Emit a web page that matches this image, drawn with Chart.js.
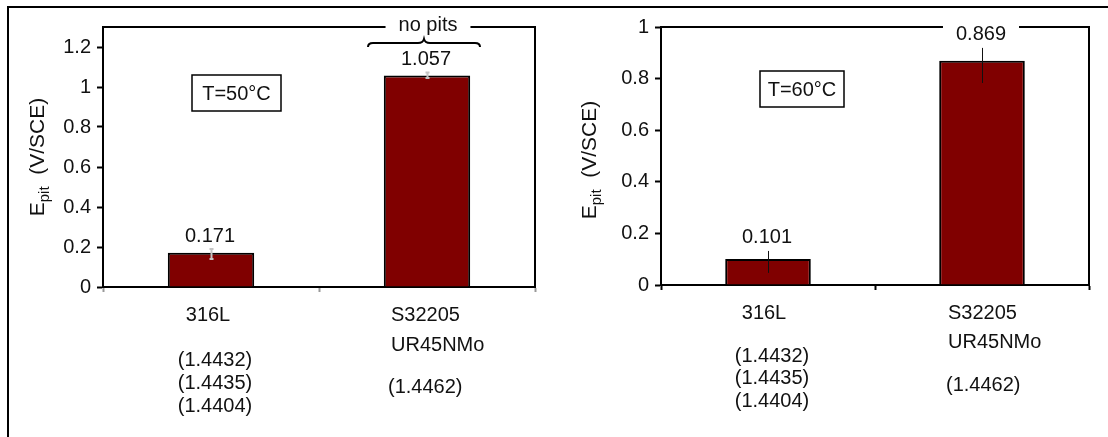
<!DOCTYPE html>
<html>
<head>
<meta charset="utf-8">
<script src="https://cdn.jsdelivr.net/npm/chart.js@4.4.1/dist/chart.umd.min.js"></script>
<style>
  html, body { margin: 0; padding: 0; background: #fff; }
  #page { position: relative; width: 1108px; height: 437px; overflow: hidden; }
  #frame { position: absolute; left: 7px; top: 6px; right: -10px; bottom: -10px;
           border-left: 2px solid #000; border-top: 2px solid #000; }
  canvas { position: absolute; left: 0; top: 0; }
</style>
</head>
<body>
<div id="page">
  <div id="frame"></div>
  <canvas id="chart50" width="1108" height="437"></canvas>
  <canvas id="chart60" width="1108" height="437"></canvas>
</div>
<script>
// categories and their extra label lines
const categories = ['316L', 'S32205'];
const nameLines = [['316L'], ['S32205', 'UR45NMo']];
const gradeLines = [['(1.4432)', '(1.4435)', '(1.4404)'], ['(1.4462)']];

// T = 50 °C
const epit50 = [0.171, 1.057];
const errLow50 = [0.14, 1.045];
const errHigh50 = [0.19, 1.072];
const notes50 = ['', 'no pits'];
const yTicks50 = [0, 0.2, 0.4, 0.6, 0.8, 1, 1.2];

// T = 60 °C
const epit60 = [0.101, 0.869];
const errLow60 = [0.047, 0.783];
const errHigh60 = [0.132, 0.919];
const notes60 = ['', ''];
const yTicks60 = [0, 0.2, 0.4, 0.6, 0.8, 1];

const FONT = "'Liberation Sans', Arial, sans-serif";
const INK = '#111';

const extras = {
  id: 'extras',
  afterDraw(chart, args, o) {
    const ctx = chart.ctx;
    const { left, right, top, bottom } = chart.chartArea;
    const xs = chart.scales.x, ys = chart.scales.y;
    const values = chart.data.datasets[0].data;
    const gaps = [];
    ctx.save();

    // error bars
    values.forEach((v, i) => {
      const cx = Math.round(xs.getPixelForValue(i)) + 0.5;
      const yl = ys.getPixelForValue(o.errLow[i]);
      const yh = ys.getPixelForValue(o.errHigh[i]);
      ctx.strokeStyle = o.errColor;
      ctx.lineWidth = o.errWidth;
      ctx.beginPath();
      ctx.moveTo(cx, yl); ctx.lineTo(cx, yh);
      if (o.capW) {
        ctx.moveTo(cx - o.capW, yl); ctx.lineTo(cx + o.capW, yl);
        ctx.moveTo(cx - o.capW, yh); ctx.lineTo(cx + o.capW, yh);
      }
      ctx.stroke();
    });

    // value labels and notes
    ctx.font = `20px ${FONT}`;
    ctx.fillStyle = INK;
    ctx.textAlign = 'center';
    ctx.textBaseline = 'middle';
    values.forEach((v, i) => {
      const cx = xs.getPixelForValue(i) - 1;
      const ly = ys.getPixelForValue(o.errHigh[i]) - 13;
      const txt = String(v);
      ctx.fillText(txt, cx, ly);
      if (ly - 10 < top) {
        const w = ctx.measureText(txt).width;
        gaps.push([cx - w / 2 - 13, cx + w / 2 + 13]);
      }
      if (o.notes[i]) {
        const w = ctx.measureText(o.notes[i]).width;
        ctx.fillText(o.notes[i], cx + 2, top - 2);
        gaps.push([cx + 2 - w / 2 - 13, cx + 2 + w / 2 + 13]);
        // curly brace under the note
        const bx = cx - 2, by = top + 16, bw = 56;
        ctx.strokeStyle = '#000';
        ctx.lineWidth = 2;
        ctx.beginPath();
        ctx.moveTo(bx - bw, by + 4);
        ctx.quadraticCurveTo(bx - bw, by, bx - bw + 5, by);
        ctx.lineTo(bx - 6, by);
        ctx.quadraticCurveTo(bx - 1, by, bx, by - 4);
        ctx.quadraticCurveTo(bx + 1, by, bx + 6, by);
        ctx.lineTo(bx + bw - 5, by);
        ctx.quadraticCurveTo(bx + bw, by, bx + bw, by + 4);
        ctx.stroke();
      }
    });

    // top and right frame of the plot, with gaps for text
    ctx.strokeStyle = '#000';
    ctx.lineWidth = 2;
    ctx.beginPath();
    let x0 = left;
    gaps.sort((a, b) => a[0] - b[0]).forEach(g => {
      ctx.moveTo(x0, top); ctx.lineTo(g[0], top); x0 = g[1];
    });
    ctx.moveTo(x0, top); ctx.lineTo(right, top); ctx.lineTo(right, bottom);
    ctx.stroke();

    // temperature box
    ctx.lineWidth = 1.5;
    ctx.strokeRect(o.boxX, o.boxY, o.boxW, o.boxH);
    ctx.fillText(o.tempLabel, o.boxX + o.boxW / 2, o.boxY + o.boxH / 2 + 1);

    // category labels
    const L = o.lab;
    const c0 = xs.getPixelForValue(0), c1 = xs.getPixelForValue(1);
    ctx.textAlign = 'center';
    nameLines[0].forEach((t, k) => ctx.fillText(t, c0 + L.dx0Name, L.nameY + k * L.nameStep));
    gradeLines[0].forEach((t, k) => ctx.fillText(t, c0 + L.dx0Grade, L.gradeY0 + k * L.gradeStep));
    ctx.textAlign = 'left';
    nameLines[1].forEach((t, k) => ctx.fillText(t, c1 + L.dx1Name, L.nameY + k * L.nameStep));
    gradeLines[1].forEach((t, k) => ctx.fillText(t, c1 + L.dx1Grade, L.gradeY1 + k * L.gradeStep));

    // y axis title: E_pit (V/SCE)
    ctx.translate(o.titleX, (top + bottom) / 2 + o.titleDy);
    ctx.rotate(-Math.PI / 2);
    ctx.textAlign = 'left';
    ctx.textBaseline = 'alphabetic';
    ctx.font = `21px ${FONT}`;
    const wE = ctx.measureText('E').width;
    const wR = ctx.measureText('  (V/SCE)').width;
    ctx.font = `15px ${FONT}`;
    const wS = ctx.measureText('pit').width;
    let tx = -(wE + wS + wR) / 2;
    ctx.font = `21px ${FONT}`;
    ctx.fillText('E', tx, 0); tx += wE;
    ctx.font = `15px ${FONT}`;
    ctx.fillText('pit', tx, 5); tx += wS;
    ctx.font = `21px ${FONT}`;
    ctx.fillText('  (V/SCE)', tx, 0);

    ctx.restore();
  }
};

function makeChart(id, values, yMax, yTicks, pad, axisH, xTickColor, opts) {
  return new Chart(document.getElementById(id), {
    type: 'bar',
    data: {
      labels: categories,
      datasets: [{
        data: values,
        backgroundColor: '#800000',
        borderColor: '#000',
        borderWidth: 2,
        barPercentage: 0.4,
        categoryPercentage: 1
      }]
    },
    options: {
      responsive: false,
      animation: false,
      events: [],
      layout: { padding: pad },
      plugins: {
        legend: { display: false },
        tooltip: { enabled: false },
        extras: opts
      },
      scales: {
        x: {
          grid: { offset: true, drawOnChartArea: false, drawTicks: true, tickLength: 5, tickColor: xTickColor, tickWidth: 2 },
          border: { display: true, color: '#000', width: 2 },
          ticks: { display: false },
          afterFit: s => { s.height = axisH; }
        },
        y: {
          min: 0,
          max: yMax,
          afterBuildTicks: s => { s.ticks = yTicks.map(v => ({ value: v })); },
          grid: { drawOnChartArea: false, drawTicks: true, tickLength: 6, tickColor: '#000', tickWidth: 2 },
          border: { display: true, color: '#000', width: 2 },
          ticks: { font: { family: FONT, size: 20 }, color: INK, padding: 6, callback: v => String(v) },
          afterFit: s => { s.width = 50; }
        }
      }
    },
    plugins: [extras]
  });
}

makeChart('chart50', epit50, 1.3, yTicks50,
  { left: 53, right: 573, top: 27, bottom: 0 }, 150, '#999', {
    errLow: errLow50, errHigh: errHigh50, errColor: '#c4c4c4', errWidth: 2, capW: 2,
    notes: notes50, tempLabel: 'T=50°C', boxX: 192, boxY: 75, boxW: 89, boxH: 36,
    titleX: 44, titleDy: 0,
    lab: { nameY: 315, nameStep: 30, gradeY0: 360, gradeStep: 23, gradeY1: 387, dx0Name: -3, dx0Grade: 4, dx1Name: -36, dx1Grade: -39 }
  });

makeChart('chart60', epit60, 1, yTicks60,
  { left: 611, right: 19, top: 27, bottom: 0 }, 152, '#000', {
    errLow: errLow60, errHigh: errHigh60, errColor: '#111', errWidth: 1, capW: 0,
    notes: notes60, tempLabel: 'T=60°C', boxX: 760, boxY: 71, boxW: 84, boxH: 36,
    titleX: 596, titleDy: 4,
    lab: { nameY: 313, nameStep: 29, gradeY0: 356, gradeStep: 22.5, gradeY1: 385, dx0Name: -4, dx0Grade: 4, dx1Name: -34, dx1Grade: -36 }
  });
</script>
</body>
</html>
